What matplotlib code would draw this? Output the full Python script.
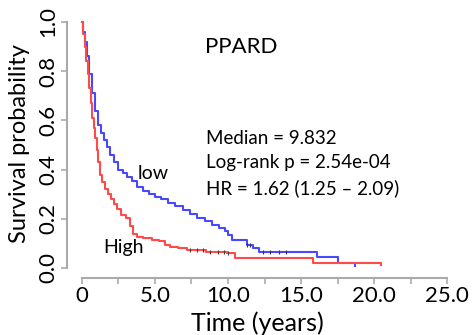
import matplotlib
matplotlib.use('Agg')
import matplotlib.pyplot as plt
import numpy as np

# Kaplan-Meier steps
low_t = [0, 0.1, 0.2, 0.35, 0.5, 0.7, 0.9, 1.1, 1.3, 1.5, 1.7, 1.9, 2.2, 2.5, 2.8, 3.1, 3.4,
         3.8, 4.2, 4.6, 5.0, 5.4, 5.9, 6.4, 6.9, 7.4, 7.9, 8.4, 8.9, 9.4, 9.8, 10.0, 10.3,
         11.3, 11.7, 12.1, 16.1, 17.5, 18.7]
low_s = [1.0, 0.96, 0.92, 0.86, 0.79, 0.71, 0.64, 0.58, 0.55, 0.52, 0.49, 0.46, 0.43, 0.40,
         0.385, 0.37, 0.355, 0.33, 0.315, 0.30, 0.29, 0.28, 0.265, 0.25, 0.235, 0.22, 0.205,
         0.19, 0.175, 0.163, 0.15, 0.135, 0.115, 0.095, 0.08, 0.065, 0.045, 0.02, 0.01]

high_t = [0, 0.1, 0.2, 0.3, 0.4, 0.5, 0.6, 0.7, 0.8, 0.9, 1.0, 1.1, 1.25, 1.4, 1.6, 1.8, 2.0,
          2.2, 2.4, 2.7, 3.0, 3.3, 3.5, 3.8, 4.2, 4.8, 5.3, 5.7, 6.0, 6.6, 7.2, 8.5, 9.9,
          10.5, 15.8, 20.5]
high_s = [1.0, 0.95, 0.9, 0.84, 0.79, 0.73, 0.67, 0.61, 0.57, 0.53, 0.48, 0.43, 0.38, 0.35,
          0.32, 0.30, 0.28, 0.26, 0.24, 0.215, 0.205, 0.17, 0.14, 0.125, 0.12, 0.115, 0.11,
          0.095, 0.085, 0.08, 0.073, 0.067, 0.061, 0.041, 0.02, 0.012]

# censored times
low_cens = [11.3, 11.5, 12.4, 12.9, 13.5, 14.0]
high_cens = [7.4, 7.9, 8.3, 8.8, 9.3, 9.7, 10.0]

xticks = [0, 2.5, 5, 7.5, 10, 12.5, 15, 17.5, 20, 22.5, 25]
xticklabels = ['0', '', '5.0', '', '10.0', '', '15.0', '', '20.0', '', '25.0']
yticks = [0, 0.2, 0.4, 0.6, 0.8, 1.0]
yticklabels = ['0.0', '0.2', '0.4', '0.6', '0.8', '1.0']

plt.rcParams['font.family'] = ['Lato', 'DejaVu Sans']


def step_val(ts, ss, c):
    return ss[np.searchsorted(ts, c, 'right') - 1]


fig = plt.figure(figsize=(4.72, 3.35), dpi=100)
ax = fig.add_axes([67/472, 1 - 278/335, (460-67)/472, (278-14)/335])

blue = '#4848ff'
red = '#ff4a4a'
ax.plot(low_t, low_s, drawstyle='steps-post', color=blue, lw=1.5)
ax.plot(high_t, high_s, drawstyle='steps-post', color=red, lw=1.5)

# censor marks
ax.plot(low_cens, [step_val(low_t, low_s, c) for c in low_cens], '|',
        color='#333355', ms=3, mew=0.8)
ax.plot(high_cens, [step_val(high_t, high_s, c) for c in high_cens], '|',
        color='#553333', ms=3, mew=0.8)

ax.set_xlim(-1.027, 25.89)
ax.set_ylim(-0.0407, 1.0325)

for s in ['top', 'right']:
    ax.spines[s].set_visible(False)
ax.spines['left'].set_bounds(0, 1)
ax.spines['bottom'].set_bounds(0, 25)
for s in ['left', 'bottom']:
    ax.spines[s].set_color('#aaaaaa')
    ax.spines[s].set_linewidth(1.5)

ax.set_xticks(xticks)
ax.set_xticklabels(xticklabels, fontsize=16)
ax.set_yticks(yticks)
ax.set_yticklabels(yticklabels, fontsize=16, rotation=90, va='center')
ax.tick_params(color='#aaaaaa', length=4, width=1.2, pad=2)

ax.set_xlabel('Time (years)', fontsize=18, va='center')
ax.xaxis.set_label_coords(0.484, -0.17)
ax.set_ylabel('Survival probability', fontsize=17, va='center')
ax.yaxis.set_label_coords(-0.12, 0.511)

ax.text(8.42, 0.898, 'PPARD', fontsize=16, va='center')
ax.text(8.49, 0.528, 'Median = 9.832', fontsize=13.5, va='center')
ax.text(8.49, 0.427, 'Log-rank p = 2.54e-04', fontsize=13.5, va='center')
ax.text(8.49, 0.325, 'HR = 1.62 (1.25 \u2013 2.09)', fontsize=13.5, va='center')
ax.text(3.84, 0.386, 'low', fontsize=14, va='center')
ax.text(1.44, 0.085, 'High', fontsize=14, va='center')

fig.savefig('out.png', dpi=100)
